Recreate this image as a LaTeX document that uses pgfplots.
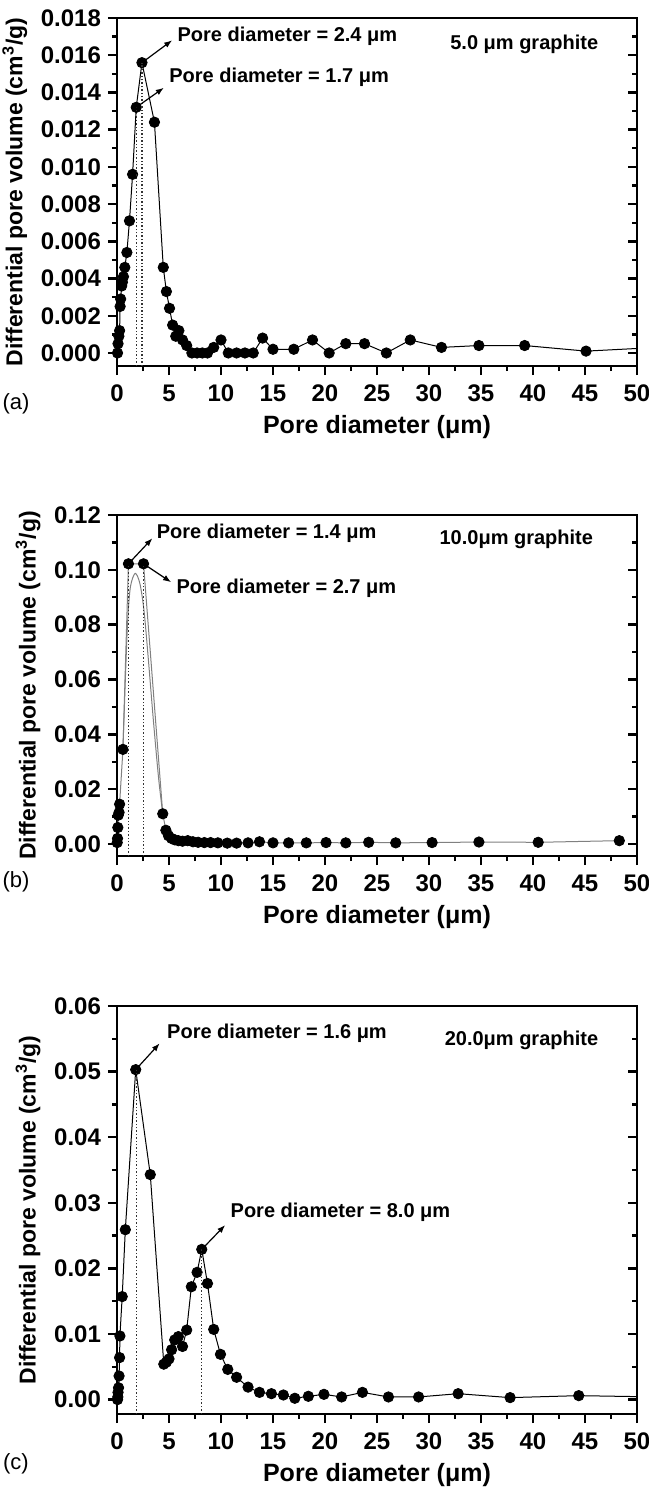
\documentclass[border=0pt]{standalone}
\usepackage{fontspec}
\setmainfont{Liberation Sans}
\usepackage{pgfplots}
\usepackage{pgfplotstable}
\pgfplotsset{compat=1.18}
\usetikzlibrary{arrows.meta}

% panel (a): 5.0 um graphite
\pgfplotstableread{
x y
0.05 0.0000
0.10 0.0005
0.18 0.0009
0.25 0.0012
0.30 0.0025
0.35 0.0029
0.45 0.0036
0.52 0.0038
0.62 0.0041
0.75 0.0046
0.95 0.0054
1.20 0.0071
1.50 0.0096
1.85 0.0132
2.40 0.0156
3.60 0.0124
4.45 0.0046
4.75 0.0033
5.05 0.0024
5.35 0.0015
5.65 0.0009
5.95 0.0012
6.30 0.0007
6.70 0.0004
7.20 0.0000
7.70 0.0000
8.20 0.0000
8.70 0.0000
9.30 0.0003
10.0 0.0007
10.7 0.0000
11.5 0.0000
12.3 0.0000
13.1 0.0000
14.0 0.0008
15.0 0.0002
17.0 0.0002
18.8 0.0007
20.4 0.0000
22.0 0.0005
23.8 0.0005
25.9 0.0000
28.2 0.0007
31.2 0.0003
34.8 0.0004
39.2 0.0004
45.1 0.0001
52.0 0.0003
}\dataA

% panel (b): 10.0 um graphite, measured points
\pgfplotstableread{
x y
0.02 0.0005
0.05 0.0020
0.08 0.0060
0.12 0.0105
0.20 0.0115
0.25 0.0145
0.57 0.0345
1.10 0.1022
2.55 0.1022
4.40 0.0110
4.70 0.0050
4.95 0.0030
5.25 0.0020
5.55 0.0015
5.90 0.0012
6.30 0.0010
6.80 0.0012
7.30 0.0008
7.80 0.0006
8.40 0.0005
9.00 0.0005
9.70 0.0004
10.6 0.0003
11.5 0.0003
12.6 0.0004
13.7 0.0008
15.0 0.0004
16.5 0.0004
18.2 0.0004
20.1 0.0005
22.0 0.0004
24.2 0.0006
26.8 0.0004
30.3 0.0005
34.8 0.0007
40.5 0.0006
48.3 0.0012
}\dataB

% panel (b): fitted grey curve
\pgfplotstableread{
x y
0.57 0.0345
0.85 0.0650
1.05 0.0830
1.30 0.0940
1.75 0.0987
2.20 0.0950
2.60 0.0850
3.00 0.0680
3.50 0.0450
4.00 0.0240
4.40 0.0110
}\curveB

% panel (c): 20.0 um graphite
\pgfplotstableread{
x y
0.05 0.0000
0.08 0.0004
0.10 0.0011
0.15 0.0018
0.20 0.0036
0.25 0.0064
0.28 0.0097
0.50 0.0157
0.80 0.0259
1.80 0.0503
3.20 0.0343
4.50 0.0054
4.75 0.0057
5.00 0.0062
5.25 0.0076
5.55 0.0091
5.90 0.0096
6.30 0.0081
6.70 0.0106
7.15 0.0172
7.70 0.0194
8.15 0.0229
8.70 0.0177
9.30 0.0107
9.95 0.0069
10.65 0.0046
11.5 0.0034
12.6 0.0019
13.7 0.0011
14.85 0.0009
16.0 0.0007
17.1 0.0002
18.4 0.0005
19.9 0.0008
21.6 0.0004
23.6 0.0011
26.1 0.0004
29.0 0.0004
32.8 0.0009
37.8 0.0003
44.4 0.0006
52.0 0.0004
}\dataC

\pgfplotsset{
  panel/.style={
    scale only axis, width=260pt, xmin=0, xmax=50,
    xtick={0,5,...,50}, minor x tick num=1, minor y tick num=1,
    xtick pos=bottom, ytick pos=left, tick align=outside,
    major tick length=4.5pt, minor tick length=2.5pt,
    axis line style={line width=1.3pt},
    every major tick/.append style={line width=1.2pt, black},
    every minor tick/.append style={line width=1.2pt, black},
    scaled y ticks=false,
    /pgf/number format/assume math mode=true,
    tick label style={font=\bfseries\fontsize{12}{14}\selectfont},
    xticklabel style={yshift=-1.5pt},
    xlabel style={font=\bfseries\fontsize{12.5}{14}\selectfont},
    ylabel style={font=\bfseries\fontsize{11.5}{13}\selectfont},
    xlabel={Pore diameter (μm)},
    ylabel={Differential pore volume (cm\textsuperscript{3}/g)},
    clip mode=individual,
  },
  rside/.style={
    scale only axis, width=260pt, xmin=0, xmax=50,
    axis x line=none, axis y line*=right, tick align=inside,
    scaled y ticks=false, yticklabels={}, minor y tick num=1,
    major tick length=4.5pt, minor tick length=2.5pt,
    axis line style={line width=1.3pt},
    every major tick/.append style={line width=1.2pt, black},
    every minor tick/.append style={line width=1.2pt, black},
  },
  pts/.style={only marks, mark=*, mark size=2.6pt, black, restrict x to domain=0:50},
}
\tikzset{
  note/.style={font=\bfseries\fontsize{10}{12}\selectfont, anchor=west, inner sep=1pt},
  arr/.style={-{Latex[length=4pt,width=3pt]}, line width=0.6pt},
  vdot/.style={densely dotted, line width=0.7pt, black!80},
}

\begin{document}
\begin{tikzpicture}
\useasboundingbox (0,0) rectangle (324pt,-747pt);

% ---------- (a)
\begin{axis}[panel, at={(58.5pt,-183pt)}, anchor=south west, height=174pt,
  ymin=-0.0007, ymax=0.018,
  ytick={0,0.002,0.004,0.006,0.008,0.010,0.012,0.014,0.016,0.018},
  yticklabel style={/pgf/number format/.cd, fixed, fixed zerofill, precision=3}]
\addplot[black, line width=0.5pt] table {\dataA};
\addplot[pts] table {\dataA};
\draw[vdot] (axis cs:1.85,-0.0007) -- (axis cs:1.85,0.0132);
\draw[vdot] (axis cs:2.4,-0.0007) -- (axis cs:2.4,0.0156);
\draw[arr] (axis cs:2.4,0.0156) -- (axis cs:5.3,0.0168);
\node[note] at (axis cs:5.6,0.0170) {Pore diameter = 2.4 μm};
\draw[arr] (axis cs:1.85,0.0132) -- (axis cs:4.5,0.01425);
\node[note] at (axis cs:4.8,0.0148) {Pore diameter = 1.7 μm};
\node[note, anchor=east] at (axis cs:46.5,0.0166) {5.0 μm graphite};
\end{axis}
\begin{axis}[rside, at={(58.5pt,-183pt)}, anchor=south west, height=174pt,
  ymin=-0.0007, ymax=0.018,
  ytick={0,0.002,0.004,0.006,0.008,0.010,0.012,0.014,0.016,0.018}]
\end{axis}

% ---------- (b)
\begin{axis}[panel, at={(58.5pt,-428pt)}, anchor=south west, height=170.5pt,
  ymin=-0.0044, ymax=0.12,
  ytick={0,0.02,0.04,0.06,0.08,0.10,0.12},
  yticklabel style={/pgf/number format/.cd, fixed, fixed zerofill, precision=2}]
\addplot[gray, line width=0.5pt] table {\dataB};
\addplot[gray, line width=0.5pt, smooth] table {\curveB};
\addplot[pts] table {\dataB};
\draw[vdot] (axis cs:1.1,-0.0044) -- (axis cs:1.1,0.1022);
\draw[vdot] (axis cs:2.55,-0.0044) -- (axis cs:2.55,0.1022);
\draw[arr] (axis cs:1.1,0.1022) -- (axis cs:3.4,0.1115);
\node[note] at (axis cs:3.6,0.1132) {Pore diameter = 1.4 μm};
\draw[arr] (axis cs:2.55,0.1022) -- (axis cs:5.2,0.0955);
\node[note] at (axis cs:5.5,0.0933) {Pore diameter = 2.7 μm};
\node[note, anchor=east] at (axis cs:46,0.111) {10.0μm graphite};
\end{axis}
\begin{axis}[rside, at={(58.5pt,-428pt)}, anchor=south west, height=170.5pt,
  ymin=-0.0044, ymax=0.12,
  ytick={0,0.02,0.04,0.06,0.08,0.10,0.12}]
\end{axis}

% ---------- (c)
\begin{axis}[panel, at={(58.5pt,-707pt)}, anchor=south west, height=204pt,
  ymin=-0.0022, ymax=0.06,
  ytick={0,0.01,0.02,0.03,0.04,0.05,0.06},
  yticklabel style={/pgf/number format/.cd, fixed, fixed zerofill, precision=2}]
\addplot[black, line width=0.5pt] table {\dataC};
\addplot[pts] table {\dataC};
\draw[vdot] (axis cs:1.9,-0.0022) -- (axis cs:1.9,0.0503);
\draw[vdot] (axis cs:8.15,-0.0022) -- (axis cs:8.15,0.0229);
\draw[arr] (axis cs:1.8,0.0503) -- (axis cs:4.1,0.0543);
\node[note] at (axis cs:4.6,0.0558) {Pore diameter = 1.6 μm};
\draw[arr] (axis cs:8.15,0.0229) -- (axis cs:10.4,0.0266);
\node[note] at (axis cs:10.7,0.0286) {Pore diameter = 8.0 μm};
\node[note, anchor=east] at (axis cs:46.5,0.0548) {20.0μm graphite};
\end{axis}
\begin{axis}[rside, at={(58.5pt,-707pt)}, anchor=south west, height=204pt,
  ymin=-0.0022, ymax=0.06,
  ytick={0,0.01,0.02,0.03,0.04,0.05,0.06}]
\end{axis}

\node[font=\fontsize{11}{13}\selectfont] at (8pt,-202pt) {(a)};
\node[font=\fontsize{11}{13}\selectfont] at (8pt,-441pt) {(b)};
\node[font=\fontsize{11}{13}\selectfont] at (8pt,-732pt) {(c)};
\end{tikzpicture}
\end{document}
